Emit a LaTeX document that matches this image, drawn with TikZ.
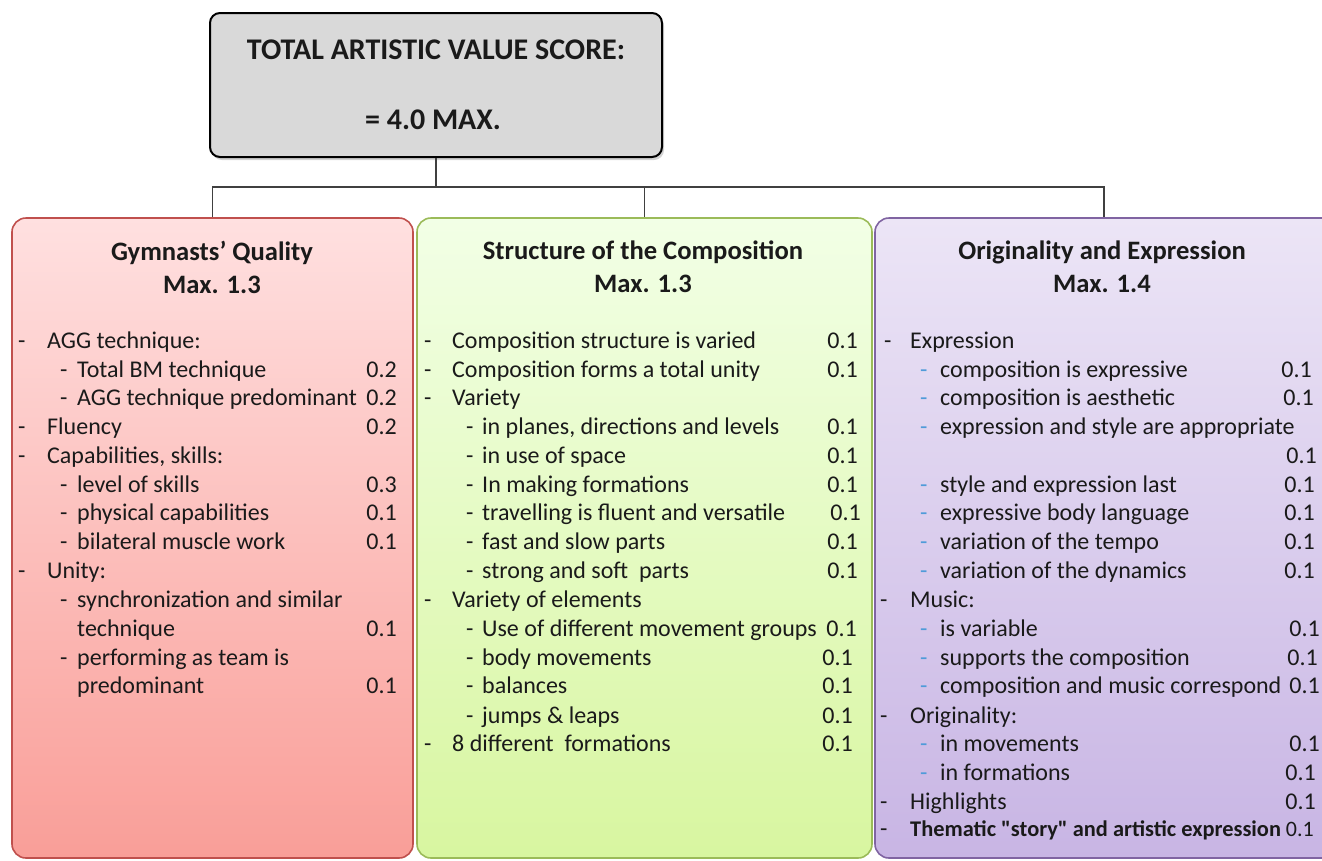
\documentclass[tikz,border=0pt]{standalone}
\usepackage{fontspec}
\setmainfont{Carlito}
\newfontfamily\rawfont{Carlito}[Ligatures=TeXOff]
\usetikzlibrary{shadows}
\definecolor{txtc}{HTML}{1A1A1A}
\definecolor{dblue}{HTML}{4F9BD9}
\definecolor{redb}{HTML}{C0504D}
\definecolor{greenb}{HTML}{9BBB59}
\definecolor{purpb}{HTML}{8064A2}
\definecolor{conc}{HTML}{404040}
\newcommand\ent[6]{% name, baseline y, dash x, dash colour, text x, text
  \node[txt,text=#4] (#1d) at (#3,#2) {-};
  \node[txt] (#1) at (#5,#2) {#6};}
\newcommand\pts[4]{% name, right x, baseline y, value
  \node[val] (#1) at (#2,#3) {#4};}
\begin{document}
\begin{tikzpicture}[x=1pt,y=-1pt,
  txt/.style={anchor=base west,inner sep=0pt,text=txtc,font=\fontsize{24}{29}\selectfont},
  val/.style={anchor=base east,inner sep=0pt,text=txtc,font=\fontsize{24}{29}\selectfont},
  ttl/.style={anchor=center,inner sep=0pt,align=center,text=txtc,font=\fontsize{26.6}{33}\selectfont\bfseries},
  hdr/.style={inner sep=0pt,text=txtc,font=\fontsize{30}{33}\selectfont\bfseries},
  panel/.style={rounded corners=14pt,line width=1.6pt,minimum height=640pt,inner sep=0pt},
  conn/.style={draw=conc,line width=1.4pt}]
\clip (0,0) rectangle (1322,860);
% top box
\node[draw=black,line width=2pt,fill={rgb,255:red,217;green,217;blue,217},rounded corners=10pt,
  minimum width=452pt,minimum height=144pt,drop shadow={shadow xshift=2pt,shadow yshift=-3pt,opacity=0.35}] (top) at (436,85) {};
\node[hdr] (t1) at (436,50) {TOTAL ARTISTIC VALUE SCORE:};
\node[hdr] (t2) at (433,120) {= 4.0 MAX.};
% panels
\node[panel,draw=redb,top color={rgb,255:red,255;green,224;blue,224},bottom color={rgb,255:red,249;green,158;blue,152},minimum width=401pt] (p1) at (212.5,538) {};
\node[panel,draw=greenb,top color={rgb,255:red,242;green,255;blue,230},bottom color={rgb,255:red,216;green,246;blue,160},minimum width=455pt] (p2) at (644.5,538) {};
\node[panel,draw=purpb,top color={rgb,255:red,236;green,229;blue,246},bottom color={rgb,255:red,200;green,181;blue,228},minimum width=465pt] (p3) at (1107.5,538) {};
% connectors
\coordinate (j) at (436,187);
\draw[conn] (top.south) -- (j);
\draw[conn] (p1.north) |- (j) -| ([xshift=-3.5pt]p3.north);
\draw[conn] (j -| p2.north) -- (p2.north);
% titles
\node[ttl] (h1) at (212,267) {Gymnasts’ Quality\\Max. 1.3};
\node[ttl] (h2) at (643,267) {Structure of the Composition\\Max. 1.3};
\node[ttl] (h3) at (1102,267) {Originality and Expression\\Max. 1.4};
% panel 1
\ent{a1}{348}{18}{txtc}{47}{AGG technique:}
\ent{a2}{377}{60}{txtc}{77}{Total BM technique}\pts{a2v}{397}{377}{0.2}
\ent{a3}{405}{60}{txtc}{77}{AGG technique predominant}\pts{a3v}{397}{405}{0.2}
\ent{a4}{434}{18}{txtc}{47}{Fluency}\pts{a4v}{397}{434}{0.2}
\ent{a5}{463}{18}{txtc}{47}{Capabilities, skills:}
\ent{a6}{492}{60}{txtc}{77}{level of skills}\pts{a6v}{397}{492}{0.3}
\ent{a7}{520}{60}{txtc}{77}{physical capabilities}\pts{a7v}{397}{520}{0.1}
\ent{a8}{549}{60}{txtc}{77}{bilateral muscle work}\pts{a8v}{397}{549}{0.1}
\ent{a9}{578}{18}{txtc}{47}{Unity:}
\ent{a10}{607}{60}{txtc}{77}{synchronization and similar}
\node[txt] (a11) at (77,636) {technique};\pts{a11v}{397}{636}{0.1}
\ent{a12}{665}{60}{txtc}{77}{performing as team is}
\node[txt] (a13) at (77,693) {predominant};\pts{a13v}{397}{693}{0.1}
% panel 2
\ent{b1}{348}{424}{txtc}{452}{Composition structure is varied}\pts{b1v}{858}{348}{0.1}
\ent{b2}{377}{424}{txtc}{452}{Composition forms a total unity}\pts{b2v}{858}{377}{0.1}
\ent{b3}{405}{424}{txtc}{452}{Variety}
\ent{b4}{434}{466}{txtc}{482}{in planes, directions and levels}\pts{b4v}{858}{434}{0.1}
\ent{b5}{463}{466}{txtc}{482}{in use of space}\pts{b5v}{858}{463}{0.1}
\ent{b6}{492}{466}{txtc}{482}{In making formations}\pts{b6v}{858}{492}{0.1}
\ent{b7}{520}{466}{txtc}{482}{travelling is fluent and versatile}\pts{b7v}{861}{520}{0.1}
\ent{b8}{549}{466}{txtc}{482}{fast and slow parts}\pts{b8v}{858}{549}{0.1}
\ent{b9}{578}{466}{txtc}{482}{strong and soft\ \ parts}\pts{b9v}{858}{578}{0.1}
\ent{b10}{607}{424}{txtc}{452}{Variety of elements}
\ent{b11}{636}{466}{txtc}{482}{Use of different movement groups}\pts{b11v}{857}{636}{0.1}
\ent{b12}{665}{466}{txtc}{482}{body movements}\pts{b12v}{853}{665}{0.1}
\ent{b13}{693}{466}{txtc}{482}{balances}\pts{b13v}{853}{693}{0.1}
\ent{b14}{723}{466}{txtc}{482}{jumps \& leaps}\pts{b14v}{853}{723}{0.1}
\ent{b15}{751}{424}{txtc}{452}{8 different\ \ formations}\pts{b15v}{853}{751}{0.1}
% panel 3
\ent{c1}{348}{884}{txtc}{910}{Expression}
\ent{c2}{377}{920}{dblue}{940}{composition is expressive}\pts{c2v}{1312}{377}{0.1}
\ent{c3}{405}{920}{dblue}{940}{composition is aesthetic}\pts{c3v}{1314}{405}{0.1}
\ent{c4}{434}{920}{dblue}{940}{expression and style are appropriate}
\pts{c5v}{1317}{463}{0.1}
\ent{c6}{492}{920}{dblue}{940}{style and expression last}\pts{c6v}{1315}{492}{0.1}
\ent{c7}{520}{920}{dblue}{940}{expressive body language}\pts{c7v}{1315}{520}{0.1}
\ent{c8}{549}{920}{dblue}{940}{variation of the tempo}\pts{c8v}{1315}{549}{0.1}
\ent{c9}{578}{920}{dblue}{940}{variation of the dynamics}\pts{c9v}{1315}{578}{0.1}
\ent{c10}{607}{880}{txtc}{910}{Music:}
\ent{c11}{636}{920}{dblue}{940}{is variable}\pts{c11v}{1320}{636}{0.1}
\ent{c12}{665}{920}{dblue}{940}{supports the composition}\pts{c12v}{1318}{665}{0.1}
\ent{c13}{693}{920}{dblue}{940}{composition and music correspond}\pts{c13v}{1320}{693}{0.1}
\ent{c14}{723}{880}{txtc}{910}{Originality:}
\ent{c15}{751}{920}{dblue}{940}{in movements}\pts{c15v}{1320}{751}{0.1}
\ent{c16}{780}{920}{dblue}{940}{in formations}\pts{c16v}{1316}{780}{0.1}
\ent{c17}{809}{880}{txtc}{910}{Highlights}\pts{c17v}{1316}{809}{0.1}
\node[txt] (c18d) at (880,836) {-};
\node[txt,font=\rawfont\fontsize{22.4}{26}\selectfont\bfseries] (c18) at (910,836) {Thematic "story" and artistic expression};
\node[val,font=\fontsize{22}{26}\selectfont] (c18v) at (1314,836) {0.1};
\end{tikzpicture}
\end{document}
